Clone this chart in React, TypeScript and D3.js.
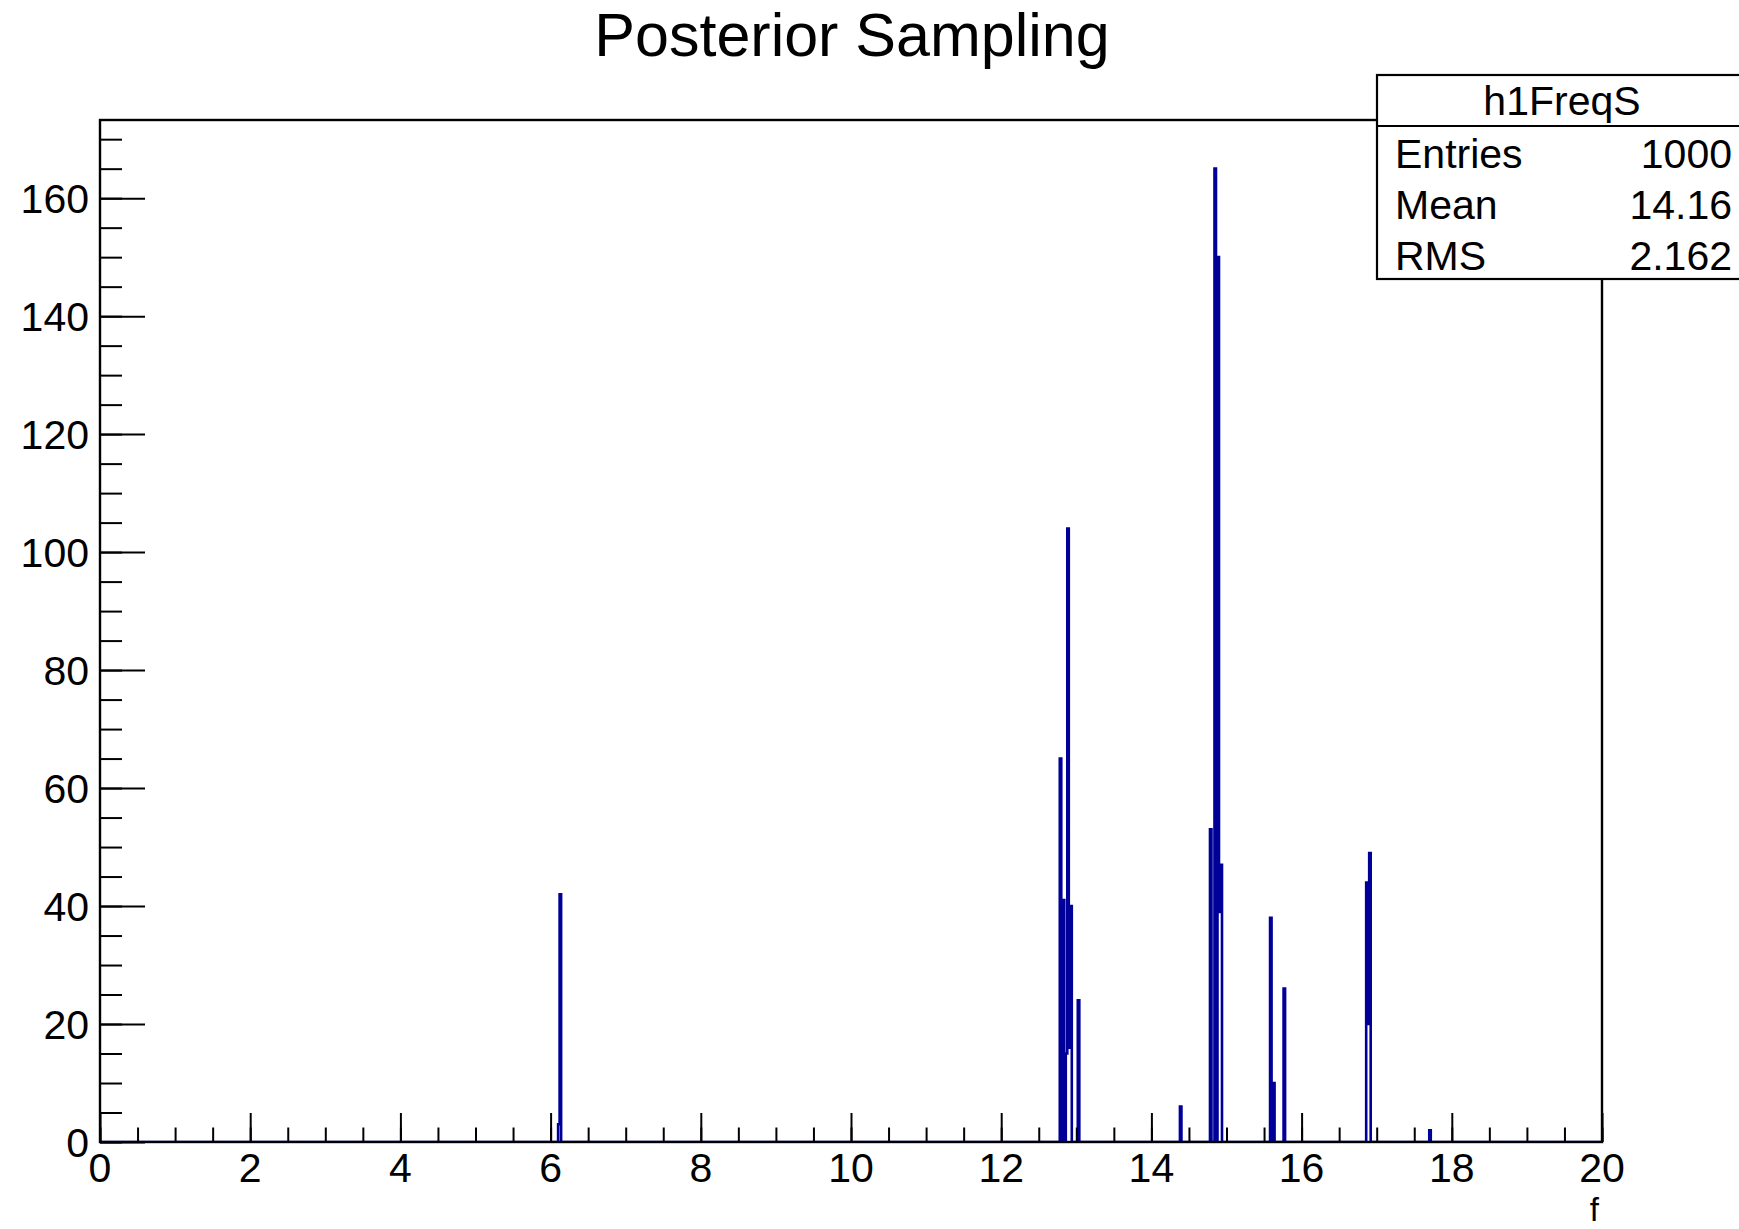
import React, { useEffect, useRef } from "react"
import * as d3 from "d3"

// histogram h1FreqS: 1000 bins on [0, 20], only the non-empty bins listed
const nBins = 1000
const xMin = 0
const xMax = 20
const binLow = [6.10, 6.12, 12.78, 12.82, 12.86, 12.88, 12.90, 12.92, 13.02, 14.38, 14.78, 14.84, 14.88, 14.90, 14.92, 15.58, 15.62, 15.76, 16.86, 16.88, 16.90, 17.70]
const counts = [3, 42, 65, 41, 15, 104, 16, 40, 24, 6, 53, 165, 150, 39, 47, 38, 10, 26, 44, 20, 49, 2]

const xMajor = [0, 2, 4, 6, 8, 10, 12, 14, 16, 18, 20]
const yMajor = [0, 20, 40, 60, 80, 100, 120, 140, 160]
const yMax = 173.25

const title = "Posterior Sampling"
const xTitle = "f"
const statsName = "h1FreqS"
const statsLabels = ["Entries", "Mean", "RMS"]
const statsValues = ["1000", "14.16", "2.162"]

const FONT = "'Liberation Sans', Arial, Helvetica, sans-serif"
const LINE = "#000099"

export default function App() {
    const ref = useRef<SVGSVGElement>(null)

    useEffect(() => {
        const svg = d3.select(ref.current)
        svg.selectAll("*").remove()

        const left = 100, right = 1602, top = 120, bottom = 1142

        const x = d3.scaleLinear().domain([xMin, xMax]).range([left, right])
        const y = d3.scaleLinear().domain([0, yMax]).range([bottom, top])

        // keep the zero-level part of the outline hidden under the axis
        svg.append("clipPath").attr("id", "histClip")
            .append("rect")
            .attr("x", left).attr("y", top)
            .attr("width", right - left).attr("height", bottom - top - 1)

        // fill the bin contents
        const binW = (xMax - xMin) / nBins
        const content = new Array(nBins).fill(0)
        binLow.forEach((lo, i) => {
            content[Math.round((lo - xMin) / binW)] = counts[i]
        })
        const pts: [number, number][] = [[xMin, 0]]
        content.forEach((c, i) => pts.push([xMin + i * binW, c]))
        pts.push([xMax, content[nBins - 1]])
        pts.push([xMax, 0])

        const line = d3.line<[number, number]>()
            .x(d => x(d[0]))
            .y(d => y(d[1]))
            .curve(d3.curveStepAfter)

        svg.append("path")
            .datum(pts)
            .attr("clip-path", "url(#histClip)")
            .attr("fill", "none")
            .attr("stroke", LINE)
            .attr("stroke-width", 2.6)
            .attr("stroke-linejoin", "miter")
            .attr("d", line)

        // x ticks (pointing up, inside the frame)
        const xMinor = d3.range(0, 20.001, 0.5)
        const xt = svg.append("g").attr("transform", `translate(0, ${bottom})`)
        xt.append("g").call(d3.axisTop(x).tickValues(xMinor).tickSize(14.5).tickFormat(() => ""))
        xt.append("g").call(d3.axisTop(x).tickValues(xMajor).tickSize(29).tickFormat(() => ""))

        // y ticks (pointing right, inside the frame)
        const yMinor = d3.range(0, 171, 5)
        const yt = svg.append("g").attr("transform", `translate(${left}, 0)`)
        yt.append("g").call(d3.axisRight(y).tickValues(yMinor).tickSize(22).tickFormat(() => ""))
        yt.append("g").call(d3.axisRight(y).tickValues(yMajor).tickSize(45).tickFormat(() => ""))

        svg.selectAll(".domain").remove()
        svg.selectAll(".tick line").attr("stroke", "#000").attr("stroke-width", 2)

        // frame
        svg.append("rect")
            .attr("x", left).attr("y", top)
            .attr("width", right - left).attr("height", bottom - top)
            .attr("fill", "none").attr("stroke", "#000").attr("stroke-width", 2.4)

        // tick labels
        svg.append("g").selectAll("text")
            .data(xMajor).enter().append("text")
            .attr("x", d => x(d)).attr("y", 1182)
            .attr("text-anchor", "middle")
            .attr("font-size", 41).attr("font-family", FONT)
            .text(d => d)

        svg.append("g").selectAll("text")
            .data(yMajor).enter().append("text")
            .attr("x", 89).attr("y", d => y(d))
            .attr("dy", "0.36em")
            .attr("text-anchor", "end")
            .attr("font-size", 41).attr("font-family", FONT)
            .text(d => d)

        svg.append("text")
            .attr("x", 1599).attr("y", 1221)
            .attr("text-anchor", "end")
            .attr("font-size", 33).attr("font-family", FONT)
            .text(xTitle)

        svg.append("text")
            .attr("x", 852).attr("y", 56)
            .attr("text-anchor", "middle")
            .attr("font-size", 61).attr("font-family", FONT)
            .text(title)

        // stats box
        const bx = 1377, by = 75, bw = 380, rowH = 51
        const stats = svg.append("g")
        stats.append("rect")
            .attr("x", bx).attr("y", by)
            .attr("width", bw).attr("height", rowH * 4)
            .attr("fill", "#fff").attr("stroke", "#000").attr("stroke-width", 2.2)
        stats.append("line")
            .attr("x1", bx).attr("x2", bx + bw)
            .attr("y1", by + rowH).attr("y2", by + rowH)
            .attr("stroke", "#000").attr("stroke-width", 2.2)
        stats.append("text")
            .attr("x", 1562).attr("y", by + 40)
            .attr("text-anchor", "middle")
            .attr("font-size", 41).attr("font-family", FONT)
            .text(statsName)
        statsLabels.forEach((lab, i) => {
            stats.append("text")
                .attr("x", 1395).attr("y", by + rowH * (i + 1) + 42)
                .attr("font-size", 41).attr("font-family", FONT)
                .text(lab)
            stats.append("text")
                .attr("x", 1732).attr("y", by + rowH * (i + 1) + 42)
                .attr("text-anchor", "end")
                .attr("font-size", 41).attr("font-family", FONT)
                .text(statsValues[i])
        })
    }, [])

    return (
        <svg
            ref={ref}
            width={1739}
            height={1229}
            style={{ position: "absolute", left: 0, top: 0, background: "#fff" }}
        />
    )
}
